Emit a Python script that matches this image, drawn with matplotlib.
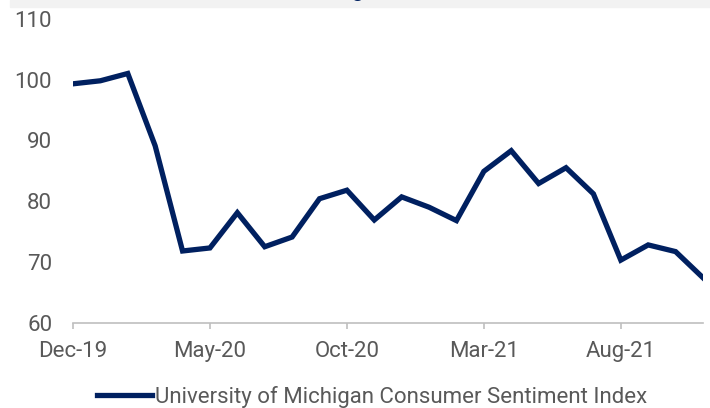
import numpy as np
import matplotlib.pyplot as plt
import matplotlib.patches as mpatches

plt.rcParams['font.family'] = ['Roboto', 'DejaVu Sans']

# University of Michigan Consumer Sentiment Index, Dec-19 .. Nov-21
months = ['Dec-19', 'Jan-20', 'Feb-20', 'Mar-20', 'Apr-20', 'May-20', 'Jun-20', 'Jul-20',
          'Aug-20', 'Sep-20', 'Oct-20', 'Nov-20', 'Dec-20', 'Jan-21', 'Feb-21', 'Mar-21',
          'Apr-21', 'May-21', 'Jun-21', 'Jul-21', 'Aug-21', 'Sep-21', 'Oct-21', 'Nov-21']
sentiment = [99.3, 99.8, 101.0, 89.1, 71.8, 72.3, 78.1, 72.5, 74.1, 80.4, 81.8, 76.9,
             80.7, 79.0, 76.8, 84.9, 88.3, 82.9, 85.5, 81.2, 70.3, 72.8, 71.7, 67.4]
yticks = [60, 70, 80, 90, 100, 110]

navy = '#002060'
grey = '#595959'

fig = plt.figure(figsize=(7.10, 4.08), dpi=100)
ax = fig.add_axes([0.1028, 0.209, 0.8873, 0.745])

x = np.arange(len(months))
ax.plot(x, sentiment, color=navy, linewidth=3.8, solid_joinstyle='miter',
        label='University of Michigan Consumer Sentiment Index')

ax.set_xlim(0, len(months) - 1)
ax.set_ylim(60, 110)
ax.set_yticks(yticks)
ax.set_xticks(x[::5])
ax.set_xticklabels(months[::5])

for s in ['top', 'right', 'left']:
    ax.spines[s].set_visible(False)
ax.spines['bottom'].set_color('#bfbfbf')
ax.spines['bottom'].set_linewidth(1.2)
ax.tick_params(axis='x', length=4.5, width=1.2, color='#bfbfbf', labelsize=16,
               labelcolor=grey, pad=9)
ax.tick_params(axis='y', length=0, labelsize=16, labelcolor=grey, pad=15)

ax.legend(loc='center', bbox_to_anchor=(0.4746, -0.244), frameon=False,
          fontsize=16, handlelength=2.5, handletextpad=0.12, labelcolor=grey)

# cut-off title band at the top
fig.patches.append(mpatches.Rectangle((0.014, 1 - 7 / 408), 0.986, 7 / 408,
                                      transform=fig.transFigure, color='#f2f2f2', zorder=0))
fig.text(0.503, 1.0 + 3 / 408, 'g', color=navy, fontsize=15, ha='center',
         va='baseline', fontweight='bold')

fig.savefig('out.png', dpi=100)
